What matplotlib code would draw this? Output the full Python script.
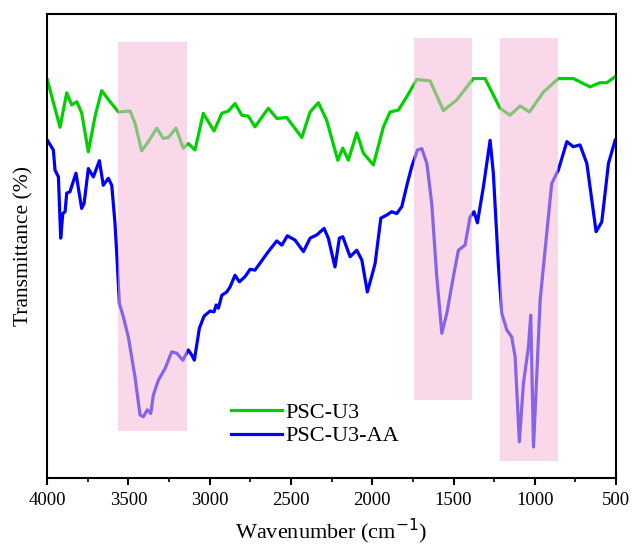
import matplotlib
matplotlib.use("Agg")
import matplotlib.pyplot as plt

plt.rcParams['font.family'] = ['Liberation Serif', 'DejaVu Serif']

# PSC-U3 (green) spectrum, wavenumber (cm-1) / transmittance (a.u.)
wn_u3 = [3998, 3920, 3879, 3848, 3817, 3787, 3746, 3705, 3664, 3612, 3561,
         3489, 3459, 3418, 3377, 3325, 3285, 3254, 3207, 3162, 3131, 3090,
         3039, 2973, 2925, 2885, 2844, 2802, 2762, 2721, 2639, 2587, 2526,
         2433, 2382, 2331, 2280, 2212, 2181, 2147, 2095, 2054, 1993, 1931,
         1890, 1839, 1787, 1726, 1644, 1562, 1480, 1378, 1306, 1214, 1152,
         1091, 1033, 947, 855, 763, 660, 599, 557, 506]
t_u3 = [85.8, 75.6, 83.0, 80.4, 81.1, 78.7, 70.3, 77.9, 83.5, 81.1, 78.9,
        79.1, 76.5, 70.5, 72.5, 75.4, 73.2, 73.4, 75.4, 71.1, 72.1, 70.7,
        78.6, 74.8, 78.6, 79.1, 80.7, 78.2, 78.0, 75.7, 79.7, 77.5, 77.7,
        73.4, 78.9, 80.9, 77.1, 68.5, 71.1, 68.5, 74.4, 70.0, 67.5, 75.7,
        78.9, 79.3, 82.2, 85.9, 85.6, 79.2, 81.5, 86.1, 86.1, 79.7, 78.2,
        80.2, 78.9, 83.2, 86.1, 86.1, 84.3, 85.2, 85.2, 86.5]

# PSC-U3-AA (blue) spectrum
wn_aa = [3998, 3961, 3951, 3930, 3916, 3903, 3889, 3879, 3859, 3822, 3787,
         3772, 3746, 3715, 3678, 3654, 3623, 3602, 3582, 3568, 3555, 3531,
         3500, 3459, 3428, 3408, 3383, 3362, 3346, 3315, 3274, 3233, 3202,
         3165, 3131, 3110, 3094, 3063, 3034, 2997, 2973, 2960, 2946, 2925,
         2895, 2874, 2844, 2817, 2782, 2751, 2721, 2639, 2587, 2556, 2522,
         2475, 2423, 2382, 2341, 2296, 2270, 2229, 2202, 2181, 2136, 2095,
         2064, 2030, 1993, 1982, 1947, 1910, 1880, 1849, 1818, 1784, 1757,
         1722, 1695, 1664, 1634, 1603, 1572, 1541, 1501, 1470, 1429, 1398,
         1374, 1353, 1316, 1275, 1255, 1224, 1203, 1172, 1142, 1121, 1095,
         1070, 1039, 1025, 1008, 992, 967, 937, 896, 855, 803, 763, 722,
         680, 623, 588, 547, 506]
t_aa = [72.8, 70.7, 66.4, 64.9, 51.7, 57.0, 57.4, 61.4, 61.7, 65.7, 58.1,
        59.2, 66.7, 64.9, 68.4, 63.1, 64.6, 63.1, 54.9, 46.3, 37.6, 34.8,
        30.4, 21.8, 13.6, 13.2, 14.7, 13.9, 17.9, 21.1, 23.6, 27.2, 26.9,
        25.4, 27.6, 26.5, 25.4, 32.3, 34.9, 36.0, 35.8, 37.3, 36.6, 39.4,
        40.1, 41.2, 43.7, 42.3, 43.4, 45.0, 44.8, 48.8, 51.1, 50.2, 52.2,
        51.3, 48.8, 51.7, 52.4, 53.8, 51.7, 45.5, 51.7, 52.0, 47.7, 49.1,
        47.0, 40.1, 44.8, 46.3, 56.0, 56.7, 57.4, 57.0, 58.5, 63.5, 67.1,
        70.7, 71.0, 67.8, 59.2, 43.4, 31.2, 35.5, 43.4, 49.1, 50.2, 56.3,
        57.4, 55.0, 62.8, 72.8, 65.7, 45.9, 35.5, 31.9, 30.4, 26.1, 7.8,
        20.4, 28.3, 35.1, 6.7, 19.0, 38.4, 49.1, 63.5, 66.4, 72.5, 71.4, 71.8,
        67.8, 53.1, 55.2, 67.8, 72.8]

# highlighted regions: (high wn, low wn, bottom, top)
bands = [(3563, 3139, 10.1, 94.0),
         (1743, 1386, 16.8, 94.8),
         (1214, 857, 3.7, 94.8)]

fig = plt.figure(figsize=(6.33, 5.45), dpi=100)
ax = fig.add_axes([0.0743, 0.1229, 0.899, 0.8513])

ax.plot(wn_u3, t_u3, color='#00d000', lw=2.3, solid_joinstyle='round', label='PSC-U3')
ax.plot(wn_aa, t_aa, color='#0000ff', lw=2.3, solid_joinstyle='round', label='PSC-U3-AA')

for hi, lo, b, t in bands:
    ax.fill_between([lo, hi], b, t, color='#f5b8da', alpha=0.55, lw=0, zorder=3)

ax.set_xlim(4000, 500)
ax.set_ylim(0, 100)
ax.set_xticks([4000, 3500, 3000, 2500, 2000, 1500, 1000, 500])
ax.set_xticks(range(750, 4000, 500), minor=True)
ax.set_yticks([])
ax.tick_params(axis='x', which='major', direction='out', length=5, width=1.5,
               labelsize=13.5, pad=5)
ax.tick_params(axis='x', which='minor', direction='out', length=3, width=1.2)
for s in ax.spines.values():
    s.set_linewidth(1.5)

ax.set_xlabel('Wavenumber (cm$^{-1}$)', fontsize=16, labelpad=6)
ax.set_ylabel('Transmittance (%)', fontsize=15.5, labelpad=10)

ax.legend(loc='upper left', bbox_to_anchor=(0.288, 0.207), frameon=False,
          fontsize=16, handlelength=2.3, handletextpad=0.15, labelspacing=0.15)

fig.savefig('out.png', dpi=100)
